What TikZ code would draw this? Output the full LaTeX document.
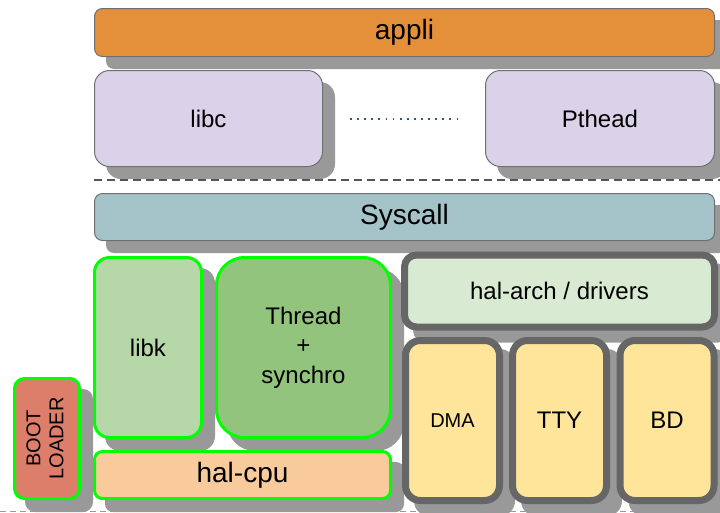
\documentclass[tikz,border=0pt]{standalone}
\usepackage{fontspec}
\setmainfont{Liberation Sans}
\usetikzlibrary{backgrounds,calc}
\definecolor{shgray}{HTML}{999999}
\definecolor{thin}{HTML}{707070}
\definecolor{thick}{HTML}{666666}
\definecolor{dashgray}{HTML}{555555}
\definecolor{green}{HTML}{00FF00}
\definecolor{cappli}{HTML}{E48F39}
\definecolor{clib}{HTML}{DAD2E9}
\definecolor{csys}{HTML}{A3C3C8}
\definecolor{clibk}{HTML}{B6D7A8}
\definecolor{cthread}{HTML}{93C47D}
\definecolor{chalcpu}{HTML}{F9CB9C}
\definecolor{cboot}{HTML}{DD7E6B}
\definecolor{charch}{HTML}{D9EAD3}
\definecolor{cdrv}{HTML}{FFE599}
\definecolor{dotblue}{HTML}{2A5A80}
\tikzset{
  base/.style={shape=rectangle, inner sep=0pt, outer sep=0pt, align=center},
  thinbox/.style={base, draw=thin, line width=1pt},
  greenbox/.style={base, draw=green, line width=3pt},
  greybox/.style={base, draw=thick, line width=7pt},
  big/.style={font=\fontsize{28}{32}\selectfont},
  mid/.style={font=\fontsize{24}{29.5}\selectfont},
  small/.style={font=\fontsize{20}{24}\selectfont},
  shadowfill/.style={fill=shgray},
}
% #1 node name, #2 corner radius, #3 half line width
\newcommand\dropsh[3]{%
  \fill[shadowfill, rounded corners=#2]
    ($(#1.north west)+(12-#3,12-#3)$) rectangle ($(#1.south east)+(12+#3,12+#3)$);}
\begin{document}
\begin{tikzpicture}[x=1pt,y=-1pt]
\useasboundingbox (0,0) rectangle (720,512);
% top layer
\node[thinbox, big, fill=cappli, rounded corners=8pt, minimum width=620pt, minimum height=48pt] (appli) at (404.5,32.5) {appli};
\node[thinbox, mid, fill=clib, rounded corners=15pt, minimum width=228pt, minimum height=96pt] (libc) at (208.5,118.5) {libc};
\node[thinbox, mid, fill=clib, rounded corners=15pt, minimum width=229pt, minimum height=96pt] (pthead) at (600,118.5) {Pthead};
% syscall
\node[thinbox, big, fill=csys, rounded corners=8pt, minimum width=620pt, minimum height=47pt] (sys) at (404.5,217) {Syscall};
% kernel
\node[greenbox, small, fill=cboot, rounded corners=10pt, minimum width=65pt, minimum height=120pt] (boot) at (47,438.5) {\rotatebox{90}{\begin{tabular}{@{}c@{}}BOOT\\[-1pt]LOADER\end{tabular}}};
\node[greenbox, mid, fill=clibk, rounded corners=15pt, minimum width=107pt, minimum height=180pt] (libk) at (148,347.5) {libk};
\node[greenbox, mid, fill=cthread, rounded corners=28pt, minimum width=174pt, minimum height=180pt] (thread) at (303.5,347.5) {Thread\\+\\synchro};
\node[greenbox, big, fill=chalcpu, rounded corners=8pt, minimum width=296pt, minimum height=47pt] (halcpu) at (242.5,475) {hal-cpu};
\node[greybox, mid, fill=charch, rounded corners=12pt, minimum width=310pt, minimum height=72pt] (halarch) at (559.5,291) {hal-arch / drivers};
\node[greybox, small, fill=cdrv, rounded corners=15pt, minimum width=94pt, minimum height=160pt] (dma) at (452.5,420.5) {DMA};
\node[greybox, mid, fill=cdrv, rounded corners=15pt, minimum width=94pt, minimum height=160pt] (tty) at (559.5,420.5) {TTY};
\node[greybox, mid, fill=cdrv, rounded corners=15pt, minimum width=94pt, minimum height=160pt] (bd) at (667,420.5) {BD};
% shadows
\begin{scope}[on background layer]
\dropsh{appli}{8pt}{0.5}
\dropsh{libc}{15pt}{0.5}
\dropsh{pthead}{15pt}{0.5}
\dropsh{sys}{8pt}{0.5}
\dropsh{boot}{10pt}{1.5}
\dropsh{libk}{15pt}{1.5}
\dropsh{thread}{28pt}{1.5}
\dropsh{halcpu}{8pt}{1.5}
\dropsh{halarch}{12pt}{3.5}
\dropsh{dma}{15pt}{3.5}
\dropsh{tty}{15pt}{3.5}
\dropsh{bd}{15pt}{3.5}
\end{scope}
% lines
\coordinate (d1) at (350,119);
\coordinate (d2) at (457,119);
\draw[dotblue, line width=1.8pt, dash pattern=on 1.8pt off 5.3pt] (d1) -- (d2);
\coordinate (s1) at (94,180);
\coordinate (s2) at (720,180);
\draw[dashgray, line width=1.8pt, dash pattern=on 8pt off 5pt] (s1) -- (s2);
\coordinate (b1) at (0,511.5);
\coordinate (b2) at (720,511.5);
\draw[shgray, line width=1.2pt, dash pattern=on 6pt off 4pt] (b1) -- (b2);
\end{tikzpicture}
\end{document}
